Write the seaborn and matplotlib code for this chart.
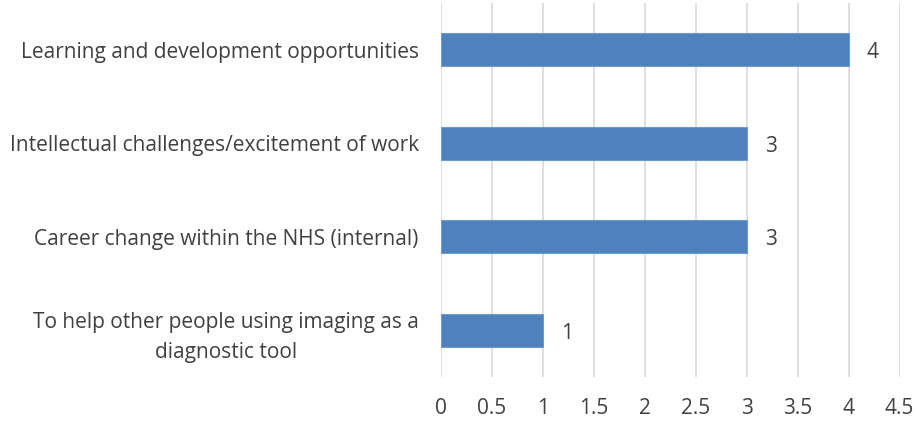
import matplotlib
matplotlib.use("Agg")
import matplotlib.pyplot as plt
import seaborn as sns
import pandas as pd

categories = [
    "Learning and development opportunities",
    "Intellectual challenges/excitement of work",
    "Career change within the NHS (internal)",
    "To help other people using imaging as a\ndiagnostic tool",
]
counts = [4, 3, 3, 1]
x_ticks = [0, 0.5, 1, 1.5, 2, 2.5, 3, 3.5, 4, 4.5]

df = pd.DataFrame({"reason": categories, "count": counts})

sns.set_theme(style="white")
plt.rcParams["font.family"] = ["Open Sans", "DejaVu Sans"]
text_color = "#404040"

fig = plt.figure(figsize=(9.17, 4.21), dpi=100)
ax = fig.add_axes([0.481, 0.1045, 0.5, 0.8885])

sns.barplot(data=df, y="reason", x="count", color="#4F81BD", saturation=1,
            width=0.35, orient="h", ax=ax, edgecolor="#6f9ad0", linewidth=0.8)

ax.set_xlim(0, 4.5)
ax.set_xticks(x_ticks)
ax.set_xticklabels([f"{t:g}" for t in x_ticks], fontsize=15, color=text_color)
ax.set_yticks(range(len(categories)))
ax.set_yticklabels(categories, fontsize=15, color=text_color,
                   multialignment="center", linespacing=1.6)
ax.tick_params(axis="x", length=0, pad=15)
ax.tick_params(axis="y", length=0, pad=16)
ax.set_xlabel("")
ax.set_ylabel("")
ax.xaxis.grid(True, color="#d9d9d9", linewidth=1.2)
ax.set_axisbelow(True)
for s in ax.spines.values():
    s.set_visible(False)

for i, v in enumerate(counts):
    ax.text(v + 0.18, i + 0.03, str(v), va="center", ha="left", fontsize=15, color=text_color)

fig.savefig("out.png", dpi=100)
